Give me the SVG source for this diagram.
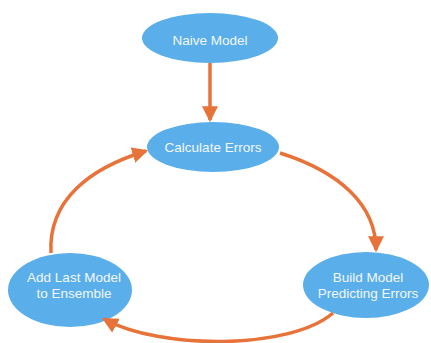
<svg xmlns="http://www.w3.org/2000/svg" width="431" height="343" viewBox="0 0 431 343">
  <defs>
    <marker id="head" markerUnits="userSpaceOnUse" markerWidth="16" markerHeight="16" viewBox="0 0 14 14" refX="12" refY="7" orient="auto">
      <path d="M0,0 L14,7 L0,14 z" fill="#e8733a"/>
    </marker>
    <style>
      .node ellipse { fill: #5aaeea; }
      .node text { fill: #f2f8fd; font-family: "Liberation Sans", Arial, sans-serif; font-size: 13.5px; text-anchor: middle; }
      .edge { fill: none; stroke: #e8733a; stroke-width: 3.5; marker-end: url(#head); }
    </style>
  </defs>
  <rect width="431" height="343" fill="#ffffff"/>

  <g id="naive-model" class="node">
    <ellipse cx="210" cy="38" rx="68" ry="25"/>
    <text x="210" y="44.5">Naive Model</text>
  </g>
  <g id="calculate-errors" class="node">
    <ellipse cx="213" cy="147" rx="66" ry="25"/>
    <text x="213" y="152">Calculate Errors</text>
  </g>
  <g id="build-model" class="node">
    <ellipse cx="366" cy="285" rx="63" ry="33"/>
    <text x="368" y="282">Build Model</text>
    <text x="368" y="298">Predicting Errors</text>
  </g>
  <g id="add-last-model" class="node">
    <ellipse cx="70" cy="290" rx="62" ry="37"/>
    <text x="74" y="282">Add Last Model</text>
    <text x="74" y="298">to Ensemble</text>
  </g>

  <g id="connectors">
    <path class="edge" d="M210,63 L210,120"/>
    <path class="edge" d="M280,153 C340,172 376,205 376,250"/>
    <path class="edge" d="M333,313 C290,350 160,350 104,319"/>
    <path class="edge" d="M51,253 C48,200 90,168 146,151"/>
  </g>
</svg>
